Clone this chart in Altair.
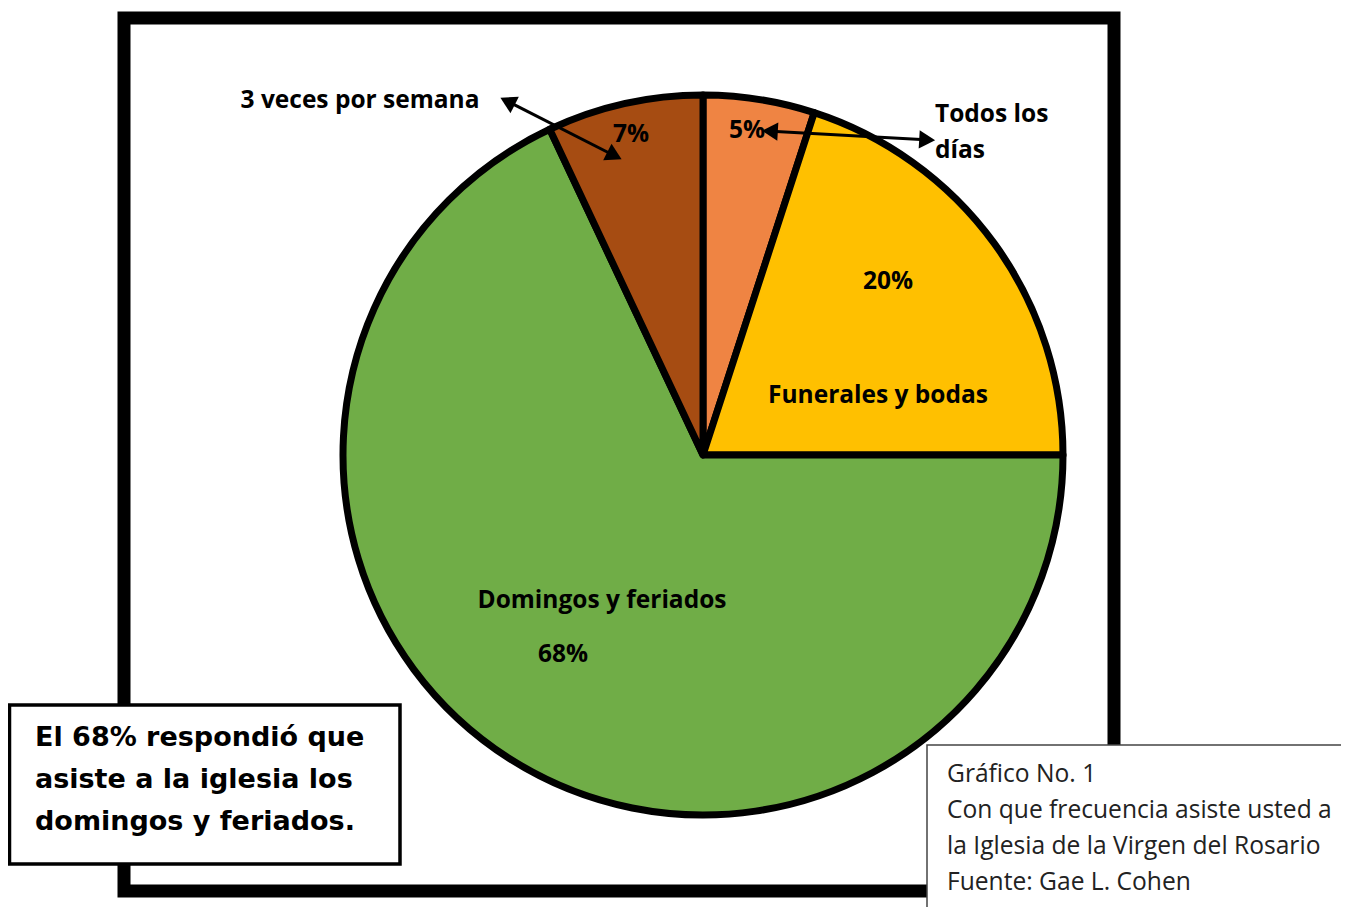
import altair as alt
import pandas as pd
import math

# ---- data ----
categories = ["Todos los días", "Funerales y bodas", "Domingos y feriados", "3 veces por semana"]
values = [5, 20, 68, 7]
colors = ["#EF8443", "#FFC000", "#70AD47", "#A64C12"]

W, H = 1333, 899
CX, CY, R = 695, 447, 360

df = pd.DataFrame({"cat": categories, "value": values, "idx": list(range(len(values)))})
dummy = alt.Data(values=[{}])

xs = alt.Scale(domain=[0, W], nice=False, zero=False)
ys = alt.Scale(domain=[0, H], nice=False, zero=False, reverse=True)


def rect(x1, y1, x2, y2, sw, stroke="black", fill=None):
    d = pd.DataFrame({"x": [x1], "y": [y1], "x2": [x2], "y2": [y2]})
    kw = dict(stroke=stroke, strokeWidth=sw)
    if fill:
        kw["fill"] = fill
    else:
        kw["fillOpacity"] = 0
    return alt.Chart(d).mark_rect(**kw).encode(
        x=alt.X("x:Q", scale=xs, axis=None), x2="x2:Q",
        y=alt.Y("y:Q", scale=ys, axis=None), y2="y2:Q")


def txt(s, x, y, size, font="Open Sans", weight="bold", align="center", color="black"):
    return alt.Chart(dummy).mark_text(
        font=font, fontSize=size, fontWeight=weight, align=align,
        baseline="middle", color=color).encode(
        x=alt.value(x), y=alt.value(y), text=alt.value(s))


def arrow(x1, y1, x2, y2):
    d = pd.DataFrame({"x": [x1], "y": [y1], "x2": [x2], "y2": [y2]})
    line = alt.Chart(d).mark_rule(color="black", strokeWidth=3).encode(
        x=alt.X("x:Q", scale=xs, axis=None), x2="x2:Q",
        y=alt.Y("y:Q", scale=ys, axis=None), y2="y2:Q")
    ang = math.degrees(math.atan2(x2 - x1, -(y2 - y1))) % 360
    back = (ang + 180) % 360
    heads = []
    L = 11
    for (px, py, a) in [(x2, y2, ang), (x1, y1, back)]:
        r = math.radians(a)
        hx = px - L * 0.5 * math.sin(r)
        hy = py + L * 0.5 * math.cos(r)
        heads.append(alt.Chart(dummy).mark_point(
            shape="triangle", filled=True, color="black", opacity=1, size=340,
            angle=a).encode(x=alt.value(hx), y=alt.value(hy)))
    return [line] + heads


frame = rect(116, 10, 1106, 883, 13)

pie = alt.Chart(df).mark_arc(
    outerRadius=R, stroke="black", strokeWidth=7, strokeJoin="round"
).encode(
    theta=alt.Theta("value:Q", stack=True),
    color=alt.Color("cat:N", scale=alt.Scale(domain=categories, range=colors), legend=None),
    order=alt.Order("idx:Q"),
    x=alt.value(CX), y=alt.value(CY),
)

F = 24.5
labels = [
    txt(f"{values[0]}%", 739, 123, F),
    txt(f"{values[3]}%", 623, 127, F),
    txt(f"{values[1]}%", 880, 274, F),
    txt(categories[1], 870, 388, F),
    txt(categories[2], 594, 593, F),
    txt(f"{values[2]}%", 555, 647, F),
    txt(categories[3], 352, 93, F),
    txt("Todos los", 927, 107, F, align="left"),
    txt("días", 927, 143, F, align="left"),
]

arrows = arrow(497, 92, 609, 149) + arrow(759, 123, 922, 132)

left_box = rect(1.5, 697, 392, 856, 3.5, fill="white")
LF = 27
left_text = [
    txt("El 68% respondió que", 27, 730, LF, font="DejaVu Sans", align="left"),
    txt("asiste a la iglesia  los", 27, 772, LF, font="DejaVu Sans", align="left"),
    txt("domingos y feriados.", 27, 814, LF, font="DejaVu Sans", align="left"),
]

right_box = rect(919, 737, W + 20, H + 20, 1.5, stroke="#444444", fill="white")
RF = 24.6
right_text = [
    txt("Gráfico No. 1", 939, 767, RF, weight="normal", align="left", color="#222222"),
    txt("Con que frecuencia asiste usted a", 939, 803, RF, weight="normal", align="left", color="#222222"),
    txt("la Iglesia de la Virgen del Rosario", 939, 839, RF, weight="normal", align="left", color="#222222"),
    txt("Fuente: Gae L. Cohen", 939, 875, RF, weight="normal", align="left", color="#222222"),
]

chart = alt.layer(
    frame, pie, *labels, *arrows, left_box, *left_text, right_box, *right_text
).properties(
    width=W, height=H, autosize=alt.AutoSizeParams(type="none"), padding=0,
    background="white"
).configure_view(stroke=None)

chart.save("out.html", embed_options={"renderer": "svg", "actions": False})
